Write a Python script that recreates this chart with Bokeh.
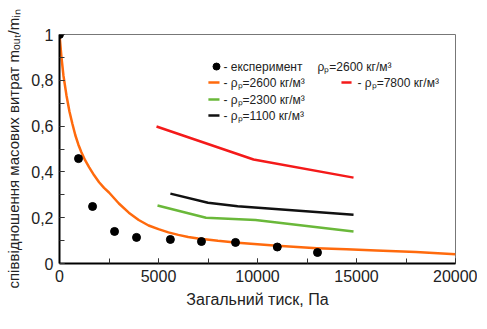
from bokeh.plotting import figure
from bokeh.models import Range1d, CustomJSTickFormatter, SingleIntervalTicker, ColumnDataSource
from bokeh.core.properties import value
from bokeh.embed import file_html
from bokeh.resources import INLINE

# experiment points
exp_x = [0, 960, 1670, 2780, 3890, 5600, 7170, 8890, 11000, 13030]
exp_y = [1.0, 0.458, 0.249, 0.14, 0.114, 0.105, 0.096, 0.092, 0.072, 0.048]

# model, rho=2600
m2600_x = [0, 100, 200, 350, 500, 650, 800, 950, 1100, 1300, 1500, 1750, 2000, 2250, 2500,
           3000, 3500, 4000, 4500, 5000, 5500, 6000, 6500, 7000, 8000, 9000, 10000, 11000,
           12000, 13000, 14500, 16000, 18000, 20000]
m2600_y = [1.0, 0.90, 0.82, 0.735, 0.665, 0.61, 0.56, 0.52, 0.487, 0.45, 0.42, 0.385, 0.355,
           0.33, 0.31, 0.262, 0.222, 0.19, 0.166, 0.15, 0.136, 0.125, 0.116, 0.109, 0.099,
           0.091, 0.084, 0.077, 0.072, 0.067, 0.062, 0.057, 0.05, 0.04]

# rho=7800
m7800_x = [4900, 9800, 14850]
m7800_y = [0.598, 0.454, 0.375]

# rho=2300
m2300_x = [4950, 7400, 9900, 14850]
m2300_y = [0.253, 0.20, 0.19, 0.14]

# rho=1100
m1100_x = [5600, 7500, 9000, 14850]
m1100_y = [0.305, 0.265, 0.25, 0.213]

FONT = "Liberation Sans"

p = figure(width=477, height=320, output_backend="svg", toolbar_location=None,
           x_range=Range1d(0, 20000), y_range=Range1d(0, 1),
           min_border_left=59, min_border_right=22, min_border_top=34, min_border_bottom=57)
p.frame_width = 396
p.frame_height = 229
p.xgrid.visible = False
p.ygrid.visible = False
p.outline_line_color = "#777777"
p.outline_line_width = 1

p.line(m7800_x, m7800_y, line_color="#f41a1a", line_width=2.5)
p.line(m1100_x, m1100_y, line_color="#111111", line_width=2.5)
p.line(m2300_x, m2300_y, line_color="#6ab83a", line_width=2.5)
p.line(m2600_x, m2600_y, line_color="#ff6a0d", line_width=2.5, line_join="round")
p.scatter(exp_x, exp_y, size=8, color="black")

# axes
p.xaxis.ticker = SingleIntervalTicker(interval=5000, num_minor_ticks=2)
p.yaxis.ticker = SingleIntervalTicker(interval=0.2, num_minor_ticks=2)
p.yaxis.formatter = CustomJSTickFormatter(code="""
if (Math.abs(tick) < 1e-9) return '0';
if (Math.abs(tick - 1) < 1e-9) return '1';
return tick.toFixed(1).replace('.', ',');
""")
for ax in (p.xaxis[0], p.yaxis[0]):
    ax.axis_line_width = 2
    ax.axis_line_color = "black"
    ax.major_tick_in = 5
    ax.major_tick_out = 0
    ax.minor_tick_in = 5
    ax.minor_tick_out = 0
    ax.major_tick_line_color = "#333333"
    ax.minor_tick_line_color = "#333333"
    ax.major_label_text_font = FONT
    ax.major_label_text_font_size = "16px"
    ax.major_label_text_color = "#222222"
    ax.axis_label_text_font = FONT
    ax.axis_label_text_font_size = "16px"
    ax.axis_label_text_font_style = "normal"
    ax.axis_label_text_color = "#222222"

p.xaxis.axis_label = "Загальний тиск, Па"
p.xaxis.major_label_standoff = 6
p.xaxis.axis_label_standoff = 6
p.yaxis.axis_label = "співвідношення масових витрат mₒᵤₜ/mᵢₙ"
p.yaxis.axis_label_text_font_size = "15px"
p.yaxis.major_label_standoff = 6
p.yaxis.axis_label_standoff = 6

# legend (drawn manually)
rows = [0.86, 0.79, 0.716, 0.646]
p.scatter([7930], [rows[0]], size=7, color="black")
p.segment(x0=[7520, 7520, 7520, 14240], y0=[rows[1], rows[2], rows[3], rows[1]],
          x1=[8080, 8080, 8080, 14750], y1=[rows[1], rows[2], rows[3], rows[1]],
          line_color=["#ff6a0d", "#6ab83a", "#111111", "#f41a1a"], line_width=2.5)
leg_src = ColumnDataSource(dict(
    x=[8280, 13030, 8280, 8280, 8280, 15050],
    y=[rows[0], rows[0], rows[1], rows[2], rows[3], rows[1]],
    t=["- експеримент", "ρₚ=2600 кг/м³", "- ρₚ=2600 кг/м³", "- ρₚ=2300 кг/м³",
       "- ρₚ=1100 кг/м³", "- ρₚ=7800 кг/м³"],
))
p.text(x="x", y="y", text="t", source=leg_src, text_font=value(FONT),
       text_font_size="12px", text_baseline="middle", text_align="left", text_color="#222222")

open("out.html", "w").write(file_html(p, INLINE))
